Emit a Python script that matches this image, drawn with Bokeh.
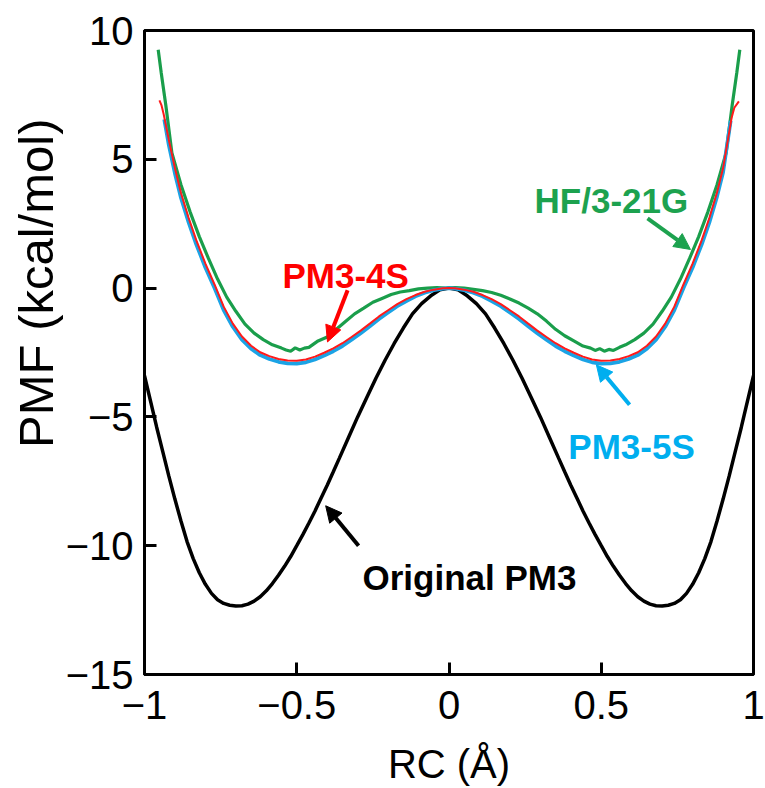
from bokeh.plotting import figure
from bokeh.models import Range1d, FixedTicker, Label, Arrow, NormalHead, Title
from bokeh.embed import file_html
from bokeh.resources import INLINE

# ---------------- data ----------------
X_TICKS = [-1, -0.5, 0, 0.5, 1]
X_TICK_LABELS = ["\u22121", "\u22120.5", "0", "0.5", "1"]
Y_TICKS = [-15, -10, -5, 0, 5, 10]
Y_TICK_LABELS = ["\u221215", "\u221210", "\u22125", "0", "5", "10"]
X_TITLE = "RC (\u00c5)"
Y_TITLE = "PMF (kcal/mol)"

# Original PM3 (black)
orig_x = [-1.00, -0.98, -0.96, -0.94, -0.92, -0.90, -0.88, -0.86, -0.84, -0.82, -0.80, -0.78,
          -0.76, -0.74, -0.72, -0.70, -0.68, -0.66, -0.64, -0.62, -0.60, -0.58, -0.56, -0.54,
          -0.52, -0.50, -0.48, -0.46, -0.44, -0.42, -0.40, -0.38, -0.36, -0.33, -0.30, -0.27,
          -0.24, -0.21, -0.18, -0.15, -0.12, -0.09, -0.06, -0.03, 0.00,
          0.03, 0.06, 0.09, 0.12, 0.15, 0.18, 0.21, 0.24, 0.27, 0.30, 0.33, 0.36,
          0.38, 0.40, 0.42, 0.44, 0.46, 0.48, 0.50, 0.52, 0.54, 0.56, 0.58, 0.60,
          0.62, 0.64, 0.66, 0.68, 0.70, 0.72, 0.74, 0.76, 0.78, 0.80, 0.82, 0.84,
          0.86, 0.88, 0.90, 0.92, 0.94, 0.96, 0.98, 1.00]
orig_y = [-3.4, -4.4, -5.4, -6.35, -7.3, -8.2, -9.05, -9.85, -10.5, -11.05, -11.5, -11.85,
          -12.1, -12.24, -12.31, -12.34, -12.33, -12.27, -12.15, -11.98, -11.75, -11.47, -11.15, -10.8,
          -10.42, -10.0, -9.57, -9.12, -8.65, -8.15, -7.65, -7.13, -6.6, -5.8, -5.0, -4.25,
          -3.5, -2.8, -2.15, -1.55, -1.0, -0.6, -0.3, -0.07, 0.0,
          -0.07, -0.3, -0.6, -1.0, -1.55, -2.15, -2.8, -3.5, -4.25, -5.0, -5.8, -6.6,
          -7.13, -7.65, -8.15, -8.65, -9.12, -9.57, -10.0, -10.42, -10.8, -11.15, -11.47, -11.75,
          -11.98, -12.15, -12.27, -12.33, -12.34, -12.31, -12.24, -12.1, -11.85, -11.5, -11.05, -10.5,
          -9.85, -9.05, -8.2, -7.3, -6.35, -5.4, -4.4, -3.4]

# HF/3-21G (green)
hf_x = [-0.955, -0.945, -0.93, -0.91, -0.88, -0.85, -0.82, -0.79, -0.76, -0.73, -0.70, -0.67,
        -0.64, -0.61, -0.58, -0.55, -0.535, -0.52, -0.505, -0.49, -0.475, -0.46, -0.43, -0.40,
        -0.37, -0.34, -0.31, -0.28, -0.25, -0.22, -0.19, -0.16, -0.13, -0.10, -0.07, -0.04,
        -0.01, 0.02, 0.05, 0.08, 0.11, 0.14, 0.17, 0.20, 0.23, 0.26, 0.29, 0.32, 0.35, 0.38,
        0.41, 0.44, 0.465, 0.48, 0.495, 0.51, 0.525, 0.54, 0.56, 0.58, 0.61, 0.64, 0.67, 0.70,
        0.73, 0.76, 0.79, 0.82, 0.85, 0.88, 0.91, 0.93, 0.945, 0.955]
hf_y = [9.25, 8.35, 7.1, 5.25, 4.0, 2.95, 2.0, 1.15, 0.35, -0.35, -0.9, -1.4,
        -1.75, -2.0, -2.2, -2.33, -2.4, -2.45, -2.32, -2.4, -2.33, -2.3, -2.05, -1.9,
        -1.6, -1.3, -1.0, -0.78, -0.55, -0.4, -0.25, -0.15, -0.1, -0.03, 0.0, 0.02,
        0.0, 0.02, 0.0, -0.05, -0.1, -0.17, -0.28, -0.42, -0.58, -0.78, -1.0, -1.28, -1.6, -1.85,
        -2.05, -2.25, -2.33, -2.42, -2.35, -2.45, -2.38, -2.42, -2.3, -2.2, -2.0, -1.75, -1.4, -0.9,
        -0.35, 0.35, 1.15, 2.0, 2.95, 4.0, 5.25, 7.1, 8.35, 9.25]

# PM3-5S (blue)
s5_x = [-0.935, -0.92, -0.90, -0.88, -0.855, -0.83, -0.80, -0.77, -0.74, -0.71, -0.68, -0.65,
        -0.62, -0.59, -0.56, -0.53, -0.50, -0.47, -0.44, -0.41, -0.38, -0.35, -0.32, -0.29,
        -0.26, -0.23, -0.20, -0.17, -0.14, -0.11, -0.08, -0.05, -0.02, 0.00,
        0.02, 0.05, 0.08, 0.11, 0.14, 0.17, 0.20, 0.23, 0.26, 0.29, 0.32, 0.35, 0.38, 0.41,
        0.44, 0.47, 0.50, 0.53, 0.56, 0.59, 0.62, 0.65, 0.68, 0.71, 0.74, 0.77, 0.80, 0.83,
        0.855, 0.88, 0.90, 0.925]
s5_y = [6.55, 5.55, 4.45, 3.5, 2.55, 1.7, 0.8, 0.0, -0.85, -1.5, -2.0, -2.35,
        -2.6, -2.75, -2.86, -2.92, -2.93, -2.88, -2.77, -2.62, -2.45, -2.25, -2.0, -1.75,
        -1.48, -1.2, -0.95, -0.7, -0.5, -0.32, -0.18, -0.08, -0.02, 0.0,
        -0.02, -0.08, -0.18, -0.32, -0.5, -0.7, -0.95, -1.2, -1.48, -1.75, -2.0, -2.25, -2.45, -2.62,
        -2.77, -2.88, -2.93, -2.92, -2.86, -2.75, -2.6, -2.35, -2.0, -1.5, -0.85, 0.0, 0.8, 1.7,
        2.55, 3.55, 4.5, 6.5]

# PM3-4S (red)
s4_x = [-0.951, -0.944, -0.937, -0.92, -0.90, -0.88, -0.855, -0.83, -0.80, -0.77, -0.74, -0.71,
        -0.68, -0.65, -0.62, -0.59, -0.56, -0.53, -0.50, -0.47, -0.44, -0.41, -0.38, -0.35,
        -0.32, -0.29, -0.26, -0.23, -0.20, -0.17, -0.14, -0.11, -0.08, -0.05, -0.02, 0.00,
        0.02, 0.05, 0.08, 0.11, 0.14, 0.17, 0.20, 0.23, 0.26, 0.29, 0.32, 0.35, 0.38, 0.41,
        0.44, 0.47, 0.50, 0.53, 0.56, 0.59, 0.62, 0.65, 0.68, 0.71, 0.74, 0.77, 0.80, 0.83,
        0.855, 0.88, 0.90, 0.928, 0.937, 0.952]
s4_y = [7.29, 7.09, 6.75, 5.75, 4.65, 3.68, 2.72, 1.86, 0.95, 0.14, -0.72, -1.38,
        -1.88, -2.24, -2.49, -2.64, -2.75, -2.81, -2.82, -2.77, -2.66, -2.51, -2.34, -2.14,
        -1.9, -1.65, -1.38, -1.1, -0.86, -0.62, -0.43, -0.27, -0.14, -0.06, -0.01, 0.0,
        -0.01, -0.06, -0.14, -0.27, -0.43, -0.62, -0.86, -1.1, -1.38, -1.65, -1.9, -2.14, -2.34, -2.51,
        -2.66, -2.77, -2.82, -2.81, -2.75, -2.64, -2.49, -2.24, -1.88, -1.38, -0.72, 0.14, 0.95, 1.86,
        2.72, 3.7, 4.65, 6.6, 7.0, 7.25]

# annotation texts and positions
ANN_TEXT = ["HF/3-21G", "PM3-4S", "PM3-5S", "Original PM3"]
ANN_X = [0.281, -0.547, 0.392, -0.284]
ANN_Y = [3.41, 0.50, -6.16, -11.24]
ANN_COLOR = ["#1da24f", "#ff0000", "#00aeef", "#000000"]

ARROW_X0 = [0.652, -0.333, 0.593, -0.297]
ARROW_Y0 = [2.71, -0.08, -4.53, -10.0]
ARROW_X1 = [0.793, -0.399, 0.484, -0.405]
ARROW_Y1 = [1.50, -2.09, -2.98, -8.45]

FONT = "Liberation Sans"

p = figure(width=765, height=788, output_backend="svg", toolbar_location=None,
           x_range=Range1d(-1, 1), y_range=Range1d(-15, 10),
           min_border_left=144, min_border_right=12, min_border_top=30, min_border_bottom=113)

p.grid.visible = False
p.outline_line_color = "black"
p.outline_line_width = 3
p.background_fill_color = "white"
p.border_fill_color = "white"

for ax, ticks, labels in ((p.xaxis[0], X_TICKS, X_TICK_LABELS), (p.yaxis[0], Y_TICKS, Y_TICK_LABELS)):
    ax.ticker = FixedTicker(ticks=ticks)
    ax.major_label_overrides = {t: l for t, l in zip(ticks, labels)}
    ax.axis_line_color = "black"
    ax.axis_line_width = 3
    ax.major_tick_in = 12
    ax.major_tick_out = 0
    ax.major_tick_line_width = 3
    ax.major_tick_line_color = "black"
    ax.minor_tick_line_color = None
    ax.major_label_text_font = FONT
    ax.major_label_text_font_size = "40px"
    ax.major_label_text_color = "black"
    ax.axis_label_text_font = FONT
    ax.axis_label_text_font_style = "normal"
    ax.axis_label_text_color = "black"

p.xaxis.axis_label = X_TITLE
p.xaxis.axis_label_text_font_size = "40px"
p.xaxis.major_label_standoff = 16
p.yaxis.major_label_standoff = 11
p.xaxis.axis_label_standoff = 20

# y-axis title as a side title, so that it can sit centred on PMF = 0 as in the reference
p.add_layout(Title(text=Y_TITLE, align="right", offset=88, standoff=0,
                   text_font=FONT, text_font_size="49px", text_font_style="normal",
                   text_color="black"), "left")

p.line(orig_x, orig_y, line_color="black", line_width=3.5)
p.line(hf_x, hf_y, line_color="#1a9e4b", line_width=3.2)
p.line(s5_x, s5_y, line_color="#1ba3e5", line_width=3.8)
p.line(s4_x, s4_y, line_color="#ff1a1a", line_width=2)

for t, x, y, c in zip(ANN_TEXT, ANN_X, ANN_Y, ANN_COLOR):
    p.add_layout(Label(x=x, y=y, text=t, text_color=c, text_font=FONT,
                       text_font_size="35px", text_font_style="bold",
                       text_align="left", text_baseline="alphabetic"))

for x0, y0, x1, y1, c in zip(ARROW_X0, ARROW_Y0, ARROW_X1, ARROW_Y1, ANN_COLOR):
    p.add_layout(Arrow(end=NormalHead(size=16, fill_color=c, line_color=c),
                       x_start=x0, y_start=y0, x_end=x1, y_end=y1,
                       line_color=c, line_width=4))

open("out.html", "w").write(file_html(p, INLINE))
